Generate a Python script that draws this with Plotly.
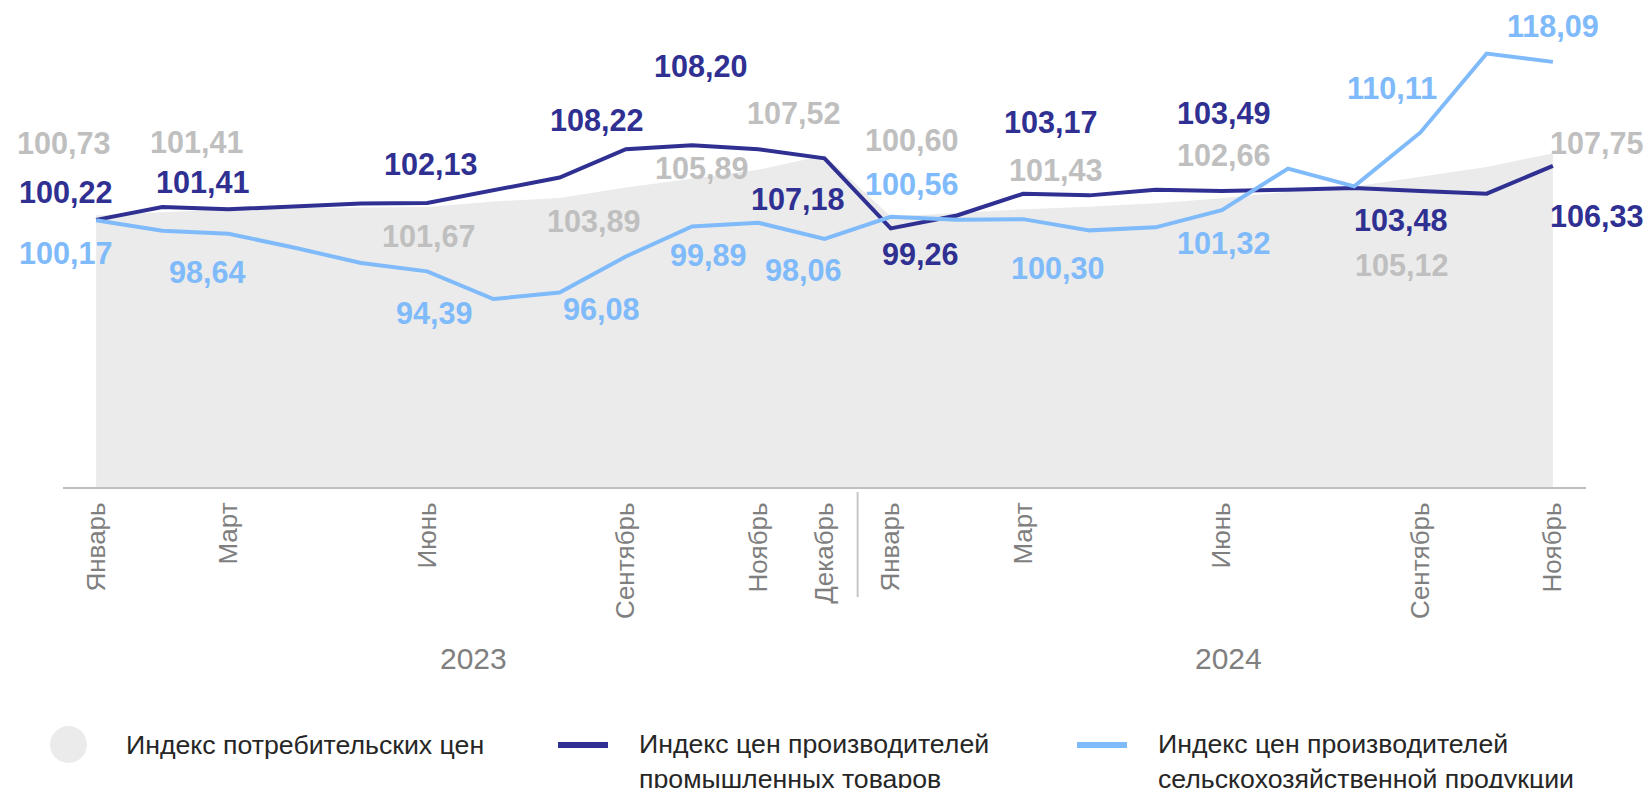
import plotly.graph_objects as go

# ---------------- data ----------------
months = ["2023-01", "2023-02", "2023-03", "2023-04", "2023-05", "2023-06",
          "2023-07", "2023-08", "2023-09", "2023-10", "2023-11", "2023-12",
          "2024-01", "2024-02", "2024-03", "2024-04", "2024-05", "2024-06",
          "2024-07", "2024-08", "2024-09", "2024-10", "2024-11"]

cpi = [100.73, 101.10, 101.41, 101.55, 101.60, 101.67, 102.30, 102.70, 103.89,
       104.90, 105.89, 107.52, 100.60, 101.00, 101.43, 101.70, 102.10, 102.66,
       103.40, 104.00, 105.12, 106.20, 107.75]

ppi_industry = [100.22, 101.68, 101.41, 101.74, 102.08, 102.13, 103.55, 105.01,
                108.22, 108.65, 108.20, 107.18, 99.26, 100.72, 103.17, 102.99,
                103.63, 103.49, 103.63, 103.83, 103.48, 103.18, 106.33]

ppi_agri = [100.17, 98.99, 98.64, 97.07, 95.34, 94.39, 91.26, 92.01, 96.08,
            99.48, 99.89, 98.06, 100.56, 100.24, 100.30, 99.03, 99.37, 101.32,
            106.01, 104.01, 110.11, 119.03, 118.09]

tick_idx = [0, 2, 5, 8, 10, 11, 12, 14, 17, 20, 22]
tick_text = ["Январь", "Март", "Июнь", "Сентябрь", "Ноябрь", "Декабрь",
             "Январь", "Март", "Июнь", "Сентябрь", "Ноябрь"]

years = ["2023", "2024"]
year_center = [5.70, 17.10]

label_idx = [0, 2, 5, 8, 10, 11, 12, 14, 17, 20, 22]

names = ["Индекс потребительских цен",
         "Индекс цен производителей<br>промышленных товаров",
         "Индекс цен производителей<br>сельскохозяйственной продукции"]

# ---------------- style ----------------
C_AREA = "#ebebeb"
C_GREY_LBL = "#bfbfbf"
C_DARK = "#2f3092"
C_LIGHT = "#7fbafa"
C_AXIS = "#7f7f7f"
FONT = "Liberation Sans, Arial, sans-serif"

# pixel offsets of value labels (xshift, yshift)
off_cpi = [(-32, 72), (-32, 67), (2, -29), (-32, -34), (-56, 2), (-31, 42),
           (21, 77), (33, 39), (2, 43), (-18, -88), (44, 10)]
off_ind = [(-30, 28), (-26, 27), (4, 39), (-29, 29), (-57, 83), (-27, -41),
           (30, -26), (28, 72), (2, 78), (-19, -29), (44, -50)]
off_agr = [(-30, -33), (-21, -38), (7, -42), (-24, -53), (-50, -32), (-21, -31),
           (21, 33), (35, -49), (2, -33), (-28, 44), (0, 36)]

x = list(range(len(months)))

fig = go.Figure()
fig.add_trace(go.Scatter(x=x, y=cpi, mode="lines", fill="tozeroy",
                         fillcolor=C_AREA, line=dict(width=0, color=C_AREA),
                         name=names[0], showlegend=False, hoverinfo="skip"))
fig.add_trace(go.Scatter(x=x, y=ppi_industry, mode="lines",
                         line=dict(width=4, color=C_DARK),
                         name=names[1], showlegend=False))
fig.add_trace(go.Scatter(x=x, y=ppi_agri, mode="lines",
                         line=dict(width=4, color=C_LIGHT),
                         name=names[2], showlegend=False))

def fmt(v):
    return f"{v:.2f}".replace(".", ",")

annotations = []
for series, offs, col in [(cpi, off_cpi, C_GREY_LBL),
                          (ppi_industry, off_ind, C_DARK),
                          (ppi_agri, off_agr, C_LIGHT)]:
    for i, (dx, dy) in zip(label_idx, offs):
        annotations.append(dict(
            x=i, y=series[i], xref="x", yref="y", text=fmt(series[i]),
            showarrow=False, xanchor="center", yanchor="middle",
            xshift=dx, yshift=dy,
            font=dict(family=FONT, size=30.6, color=col, weight="bold")))

for yr, xc in zip(years, year_center):
    annotations.append(dict(
        x=xc, y=0, xref="x", yref="paper", text=yr, showarrow=False,
        xanchor="center", yanchor="middle", yshift=-171,
        font=dict(family=FONT, size=30, color=C_AXIS)))

# legend texts
leg_text_pos = [(61, -258), (574, -274), (1093, -274)]
for nm, (dx, dy) in zip(names, leg_text_pos):
    annotations.append(dict(
        x=0, y=0, xref="paper", yref="paper", text=nm, showarrow=False,
        xanchor="left", yanchor="middle", align="left", xshift=dx, yshift=dy,
        font=dict(family=FONT, size=26.7, color="#262626")))

shapes = []
# group separators
for sx in [-0.55, 11.5, 22.56]:
    shapes.append(dict(type="line", xref="x", yref="paper", x0=sx, x1=sx,
                       ysizemode="pixel", yanchor=0, y0=-5, y1=-110,
                       line=dict(color="#c8c8c8", width=2)))
# legend markers
shapes.append(dict(type="circle", xref="paper", yref="paper",
                   xsizemode="pixel", ysizemode="pixel", xanchor=0, yanchor=0,
                   x0=-13, x1=24, y0=-276, y1=-239,
                   fillcolor=C_AREA, line=dict(width=0)))
for (x0, x1), col in [((495, 545), C_DARK), ((1014, 1064), C_LIGHT)]:
    shapes.append(dict(type="line", xref="paper", yref="paper",
                       xsizemode="pixel", ysizemode="pixel", xanchor=0, yanchor=0,
                       x0=x0, x1=x1, y0=-258, y1=-258,
                       line=dict(color=col, width=6)))

fig.update_layout(
    width=1652, height=788,
    margin=dict(l=63, r=66, t=45, b=301, autoexpand=False),
    paper_bgcolor="white", plot_bgcolor="white",
    showlegend=False,
    xaxis=dict(range=[-0.5, 22.5], tickmode="array", tickvals=tick_idx,
               ticktext=tick_text, tickangle=-90, showgrid=False,
               zeroline=False, showline=True, linecolor="#bfbfbf", linewidth=2,
               ticks="outside", ticklen=3, tickcolor="rgba(0,0,0,0)",
               tickfont=dict(family=FONT, size=26, color=C_AXIS)),
    yaxis=dict(range=[70, 120], visible=False, showgrid=False, zeroline=False),
    annotations=annotations,
    shapes=shapes,
)

fig.write_html("out.html",
               config={"displayModeBar": False},
               post_script="document.body.style.margin='0px';"
                           "document.body.style.overflow='hidden';")
